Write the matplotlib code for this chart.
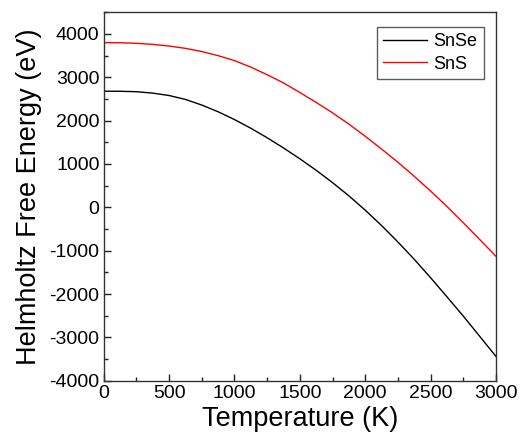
import matplotlib
matplotlib.use("Agg")
import matplotlib.pyplot as plt
from matplotlib.ticker import MultipleLocator

temperature = [0, 125, 250, 375, 500, 625, 750, 875, 1000, 1125, 1250, 1375, 1500,
               1625, 1750, 1875, 2000, 2125, 2250, 2375, 2500, 2625, 2750, 2875, 3000]
snse = [2680, 2678, 2668, 2635, 2580, 2490, 2360, 2205, 2025, 1825, 1605, 1370, 1120,
        855, 570, 265, -65, -420, -800, -1200, -1625, -2065, -2510, -2975, -3440]
sns = [3800, 3797, 3785, 3760, 3722, 3668, 3595, 3500, 3385, 3235, 3060, 2870, 2650,
       2420, 2180, 1920, 1640, 1345, 1040, 715, 375, 20, -355, -740, -1130]
series_labels = ["SnSe", "SnS"]

plt.rcParams['font.family'] = ['Liberation Sans', 'DejaVu Sans']
plt.rcParams['axes.unicode_minus'] = False

fig = plt.figure(figsize=(5.21, 4.43), dpi=100)
ax = fig.add_axes([103.7/521, 1-380.7/443, (496-103.7)/521, (380.7-12.3)/443])

ax.plot(temperature, snse, color='black', lw=1.0, label=series_labels[0])
ax.plot(temperature, sns, color='#ff0000', lw=1.0, label=series_labels[1])

ax.set_xlim(0, 3000)
ax.set_ylim(-4000, 4500)
ax.xaxis.set_major_locator(MultipleLocator(500))
ax.xaxis.set_minor_locator(MultipleLocator(250))
ax.yaxis.set_major_locator(MultipleLocator(1000))
ax.yaxis.set_minor_locator(MultipleLocator(500))
ax.set_yticks(range(-4000, 4001, 1000))

ax.tick_params(which='both', direction='in', top=False, right=False,
               labelsize=14, colors='#222222', labelcolor='black', width=1.0)
ax.tick_params(which='major', length=5, pad=3)
ax.tick_params(which='minor', length=3)
for s in ax.spines.values():
    s.set_color('#333333')
    s.set_linewidth(1.0)

ax.set_xlabel("Temperature (K)", fontsize=19.5, labelpad=3)
ax.set_ylabel("Helmholtz Free Energy (eV)", fontsize=19.5, labelpad=5)

leg = ax.legend(loc='upper right', bbox_to_anchor=(0.969, 0.960), borderaxespad=0,
                fontsize=13, frameon=True, fancybox=False, handlelength=2.45,
                handletextpad=0.35, labelspacing=0.3, borderpad=0.35)
leg.get_frame().set_edgecolor('#333333')
leg.get_frame().set_linewidth(1.0)

fig.savefig("out.png", dpi=100)
